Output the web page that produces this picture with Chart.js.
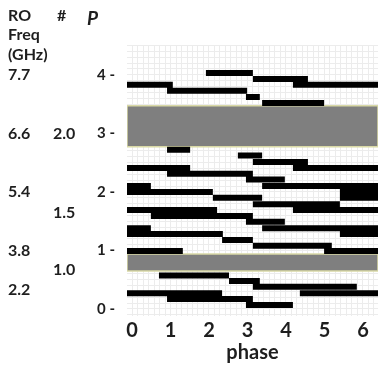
<!DOCTYPE html>
<html>
<head>
<meta charset="utf-8">
<script src="https://cdn.jsdelivr.net/npm/chart.js@4"></script>
<style>
  html, body { margin: 0; padding: 0; background: #fff; }
</style>
</head>
<body>
<canvas id="chart" width="383" height="367"></canvas>
<script>
// axis ranges (phase, P)
const xMin = -0.13, xMax = 6.39;
const yMin = -0.12, yMax = 4.51;

// horizontal step pieces: [phase start, phase end, P]
const stepRows = [
  [1.92, 3.14, 4.03],
  [3.14, 4.57, 3.93],
  [-0.13, 1.06, 3.83],
  [4.18, 6.39, 3.83],
  [0.91, 2.99, 3.73],
  [2.96, 3.32, 3.62],
  [3.38, 4.99, 3.52],

  [0.91, 1.51, 2.72],
  [2.75, 3.38, 2.62],
  [3.14, 4.57, 2.51],
  [-0.13, 1.51, 2.41],
  [4.18, 6.39, 2.41],
  [0.91, 3.14, 2.31],
  [2.96, 3.97, 2.21],
  [-0.13, 0.49, 2.10],
  [3.38, 6.39, 2.10],
  [-0.13, 2.10, 2.00],
  [5.40, 6.39, 2.00],
  [2.10, 3.38, 1.90],
  [5.40, 6.39, 1.90],
  [3.14, 5.40, 1.79],
  [-0.13, 2.21, 1.69],
  [4.18, 6.39, 1.69],
  [0.49, 3.14, 1.59],
  [2.96, 3.97, 1.49],
  [-0.13, 0.49, 1.38],
  [3.38, 6.39, 1.38],
  [-0.13, 2.36, 1.28],
  [5.40, 6.39, 1.28],
  [2.34, 3.14, 1.18],
  [3.14, 5.19, 1.08],
  [-0.13, 1.32, 0.99],
  [4.99, 6.39, 0.99],

  [0.70, 2.52, 0.57],
  [2.52, 3.32, 0.48],
  [3.14, 5.84, 0.38],
  [-0.13, 2.34, 0.27],
  [4.36, 6.39, 0.27],
  [0.91, 3.14, 0.17],
  [2.96, 4.18, 0.07]
];

// grey bands: [top P, bottom P]
const grayBands = [[3.47, 2.77], [0.94, 0.65]];

// left hand label columns
const roFreq = ['7.7', '6.6', '5.4', '3.8', '2.2'];
const roFreqP = [4, 3, 2, 1, 0.32];
const countLabels = ['2.0', '1.5', '1.0'];
const countP = [3, 1.65, 0.67];

const FONT = 'Lato';
const TXT = '#1e1e1e';

function fineTicks(min, max, div) {
  const out = [];
  for (let k = Math.ceil(min * div); k <= Math.floor(max * div); k++) out.push({ value: k / div });
  return out;
}
const isWhole = v => Math.abs(v - Math.round(v)) < 1e-6;

let segPoints = [];
stepRows.forEach(([a, b, p]) => {
  segPoints.push({ x: a, y: p }, { x: b, y: p }, { x: b, y: null });
});

const bandSets = grayBands.map(([top, bot]) => ({
  data: [
    { x: xMin, y: top }, { x: xMax, y: top },
    { x: xMax, y: bot }, { x: xMin, y: bot }, { x: xMin, y: top }
  ],
  borderColor: '#d9d9a6',
  borderWidth: 1.5,
  backgroundColor: '#7f7f7f',
  fill: 'shape',
  pointRadius: 0,
  tension: 0
}));

const sideText = {
  id: 'sideText',
  afterDraw(chart) {
    const { ctx } = chart;
    const y = chart.scales.y;
    ctx.save();
    ctx.fillStyle = TXT;
    ctx.textBaseline = 'middle';
    ctx.textAlign = 'left';
    ctx.font = 'bold 16px ' + FONT;
    ctx.fillText('RO', 8, 16);
    ctx.fillText('Freq', 8, 35);
    ctx.fillText('(GHz)', 8, 55);
    ctx.fillText('#', 57, 16);
    roFreq.forEach((t, i) => ctx.fillText(t, 8, y.getPixelForValue(roFreqP[i])));
    countLabels.forEach((t, i) => ctx.fillText(t, 53, y.getPixelForValue(countP[i])));
    ctx.font = 'italic bold 19px ' + FONT;
    ctx.fillText('P', 87, 19);
    ctx.restore();
  }
};

new Chart(document.getElementById('chart'), {
  type: 'line',
  data: {
    datasets: [{
      data: segPoints,
      borderColor: '#000',
      borderWidth: 6,
      borderCapStyle: 'butt',
      pointRadius: 0,
      spanGaps: false,
      fill: false
    }, ...bandSets]
  },
  options: {
    responsive: false,
    animation: false,
    layout: { padding: { top: 45, right: 5, left: 0, bottom: 0 } },
    plugins: { legend: { display: false }, tooltip: { enabled: false } },
    scales: {
      x: {
        type: 'linear', min: xMin, max: xMax,
        afterBuildTicks: s => { s.ticks = fineTicks(xMin, xMax, 7); },
        afterFit: s => { s.height = 51; },
        grid: { color: '#ececec', drawTicks: false },
        border: { display: false },
        ticks: {
          autoSkip: false, maxRotation: 0, padding: 3, color: TXT,
          font: { family: FONT, size: 20, weight: 'bold' },
          callback: v => isWhole(v) ? String(Math.round(v)) : ''
        },
        title: {
          display: true, text: 'phase', color: TXT,
          font: { family: FONT, size: 20, weight: 'bold' },
          padding: { top: 0, bottom: 2 }
        }
      },
      y: {
        type: 'linear', min: yMin, max: yMax,
        afterBuildTicks: s => { s.ticks = fineTicks(yMin, yMax, 10); },
        afterFit: s => { s.width = 127; },
        grid: { color: '#ececec', drawTicks: false },
        border: { display: false },
        ticks: {
          autoSkip: false, padding: 12, color: TXT,
          font: { family: FONT, size: 15, weight: 'bold' },
          callback: v => isWhole(v) ? Math.round(v) + ' -' : ''
        }
      }
    }
  },
  plugins: [sideText]
});
</script>
</body>
</html>
